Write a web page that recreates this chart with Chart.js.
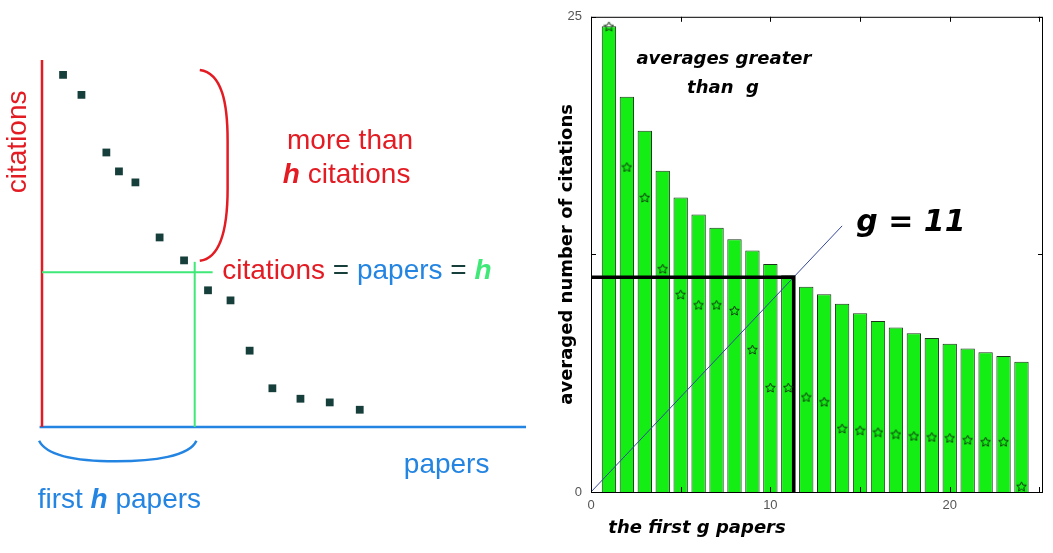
<!DOCTYPE html>
<html>
<head>
<meta charset="utf-8">
<script src="https://cdn.jsdelivr.net/npm/chart.js@4.4.1/dist/chart.umd.min.js"></script>
<style>
html, body { margin: 0; padding: 0; background: #fff; }
#wrap { position: relative; width: 1053px; height: 553px; overflow: hidden; }
#left { position: absolute; left: 0; top: 0; width: 540px; height: 553px; }
#right { position: absolute; left: 540px; top: 0; width: 513px; height: 553px; }
</style>
</head>
<body>
<div id="wrap">
  <div id="left"><canvas id="hChart"></canvas></div>
  <div id="right"><canvas id="gChart"></canvas></div>
</div>
<script>
// ---- left panel: h-index sketch (arbitrary units, 0..20 on both axes)
var paperX = [0.87, 1.63, 2.66, 3.18, 3.86, 4.86, 5.87, 6.86, 7.79, 8.58, 9.52, 10.68, 11.89, 13.13];
var citeY  = [19.19, 18.10, 14.96, 13.93, 13.33, 10.33, 9.08, 7.45, 6.90, 4.16, 2.11, 1.54, 1.34, 0.94];
var hPaper = 6.31;   // green vertical line
var hCite = 8.44;    // green horizontal line

// ---- right panel: g-index
var gPapers    = [1, 2, 3, 4, 5, 6, 7, 8, 9, 10, 11, 12, 13, 14, 15, 16, 17, 18, 19, 20, 21, 22, 23, 24];
var avgCites   = [24.5, 20.8, 19.0, 16.9, 15.5, 14.6, 13.9, 13.3, 12.7, 12.0, 11.4, 10.8, 10.4, 9.9, 9.4, 9.0, 8.65, 8.35, 8.1, 7.8, 7.55, 7.35, 7.15, 6.85];
var paperCites = [24.5, 17.1, 15.5, 11.75, 10.4, 9.85, 9.85, 9.55, 7.5, 5.5, 5.5, 5.0, 4.75, 3.35, 3.25, 3.15, 3.05, 2.95, 2.9, 2.85, 2.75, 2.65, 2.65, 0.3];
var gValue = 11.3;
var diagEnd = 14;
var xTicks  = [0, 5, 10, 15, 20, 25];
var xLabels = ['0', '', '10', '', '20', ''];
var yTicks  = [0, 12.5, 25];
var yLabels = ['0', '', '25'];

var RED = '#e31b23', BLUE = '#2384e2', GREEN = '#3fe877', DARK = '#163e3a';
var SANS = '"Liberation Sans", Arial, sans-serif';
var HEAVY = '"DejaVu Sans", sans-serif';

function drawRuns(ctx, x, y, runs) {
    ctx.textAlign = 'left';
    ctx.textBaseline = 'middle';
    runs.forEach(function (r) {
        ctx.font = r[1];
        ctx.fillStyle = r[2];
        ctx.fillText(r[0], x, y);
        x += ctx.measureText(r[0]).width;
    });
}

var hNotes = {
    id: 'hNotes',
    afterDatasetsDraw: function (chart) {
        var ctx = chart.ctx, xs = chart.scales.x, ys = chart.scales.y;
        var px = function (v) { return xs.getPixelForValue(v); };
        var py = function (v) { return ys.getPixelForValue(v); };
        var norm = '28px ' + SANS, hFont = 'bold italic 28px ' + SANS;
        ctx.save();
        ctx.lineWidth = 2.5;
        // red bracket
        ctx.strokeStyle = RED;
        ctx.beginPath();
        ctx.moveTo(px(6.52), py(19.46));
        ctx.bezierCurveTo(px(7.45), py(19.3), px(7.67), py(17.6), px(7.67), py(15.6));
        ctx.lineTo(px(7.67), py(13.0));
        ctx.bezierCurveTo(px(7.67), py(10.9), px(7.4), py(9.2), px(6.52), py(9.06));
        ctx.stroke();
        // blue bracket
        ctx.strokeStyle = BLUE;
        ctx.beginPath();
        ctx.moveTo(px(-0.12), py(-0.75));
        ctx.bezierCurveTo(px(0.2), py(-1.6), px(1.5), py(-1.87), px(3.07), py(-1.87));
        ctx.bezierCurveTo(px(4.6), py(-1.87), px(6.1), py(-1.6), px(6.38), py(-0.75));
        ctx.stroke();

        // rotated axis label
        ctx.save();
        ctx.translate(px(-0.96), py(15.54));
        ctx.rotate(-Math.PI / 2);
        ctx.font = norm; ctx.fillStyle = RED;
        ctx.textAlign = 'center'; ctx.textBaseline = 'middle';
        ctx.fillText('citations', 0, 0);
        ctx.restore();

        ctx.textAlign = 'center'; ctx.textBaseline = 'middle';
        ctx.font = norm; ctx.fillStyle = RED;
        ctx.fillText('more than', px(12.73), py(15.59));
        ctx.fillStyle = BLUE;
        ctx.fillText('papers', px(16.72), py(-2.11));

        drawRuns(ctx, px(9.95), py(13.74), [['h', hFont, RED], [' citations', norm, RED]]);
        drawRuns(ctx, px(7.45), py(8.5), [['citations', norm, RED], [' = ', norm, DARK],
            ['papers', norm, BLUE], [' = ', norm, DARK], ['h', hFont, GREEN]]);
        drawRuns(ctx, px(-0.18), py(-4.01), [['first ', norm, BLUE], ['h', hFont, BLUE], [' papers', norm, BLUE]]);
        ctx.restore();
    }
};

var hPoints = paperX.map(function (x, i) { return { x: x, y: citeY[i] }; });

new Chart(document.getElementById('hChart'), {
    type: 'scatter',
    data: {
        datasets: [
            { data: hPoints, pointStyle: 'rect', pointRadius: 5.5, backgroundColor: DARK, borderWidth: 0 },
            { type: 'line', data: [{ x: 0, y: hCite }, { x: 7.05, y: hCite }], borderColor: GREEN, borderWidth: 2, pointRadius: 0, clip: false },
            { type: 'line', data: [{ x: hPaper, y: 0 }, { x: hPaper, y: 9.0 }], borderColor: GREEN, borderWidth: 2, pointRadius: 0, clip: false },
            { type: 'line', data: [{ x: 0, y: 0 }, { x: 0, y: 20 }], borderColor: RED, borderWidth: 2.5, pointRadius: 0, clip: false },
            { type: 'line', data: [{ x: -0.1, y: 0 }, { x: 20, y: 0 }], borderColor: BLUE, borderWidth: 2.5, pointRadius: 0, clip: false }
        ]
    },
    options: {
        animation: false,
        responsive: true,
        maintainAspectRatio: false,
        events: [],
        layout: { padding: { left: 42, right: 14, top: 60, bottom: 126 } },
        plugins: { legend: { display: false }, tooltip: { enabled: false } },
        scales: {
            x: { type: 'linear', min: 0, max: 20, display: false },
            y: { type: 'linear', min: 0, max: 20, display: false }
        }
    },
    plugins: [hNotes]
});

// small outlined five-point star used as point style
function makeStar(size, color) {
    var c = document.createElement('canvas');
    c.width = size; c.height = size;
    var g = c.getContext('2d');
    g.beginPath();
    for (var i = 0; i < 10; i++) {
        var r = i % 2 === 0 ? size / 2 - 0.5 : size / 4.6;
        var a = -Math.PI / 2 + i * Math.PI / 5;
        g.lineTo(size / 2 + r * Math.cos(a), size / 2 + 0.5 + r * Math.sin(a));
    }
    g.closePath();
    g.strokeStyle = color;
    g.lineWidth = 1;
    g.stroke();
    return c;
}

var gFrame = {
    id: 'gFrame',
    afterDatasetsDraw: function (chart) {
        var ctx = chart.ctx, a = chart.chartArea, xs = chart.scales.x, ys = chart.scales.y;
        ctx.save();
        ctx.strokeStyle = '#000';
        ctx.lineWidth = 1;
        ctx.strokeRect(a.left + 0.5, a.top + 0.5, a.right - a.left - 1, a.bottom - a.top);
        ctx.beginPath();
        xTicks.forEach(function (v) {
            var x = Math.round(xs.getPixelForValue(v)) + 0.5;
            ctx.moveTo(x, a.bottom); ctx.lineTo(x, a.bottom - 5);
            ctx.moveTo(x, a.top); ctx.lineTo(x, a.top + 5);
        });
        yTicks.forEach(function (v) {
            var y = Math.round(ys.getPixelForValue(v)) + 0.5;
            ctx.moveTo(a.left, y); ctx.lineTo(a.left + 5, y);
            ctx.moveTo(a.right, y); ctx.lineTo(a.right - 5, y);
        });
        ctx.stroke();

        ctx.fillStyle = '#000';
        ctx.textAlign = 'center';
        ctx.textBaseline = 'middle';
        ctx.font = 'bold italic 18px ' + HEAVY;
        ctx.fillText('averages greater', xs.getPixelForValue(7.41), ys.getPixelForValue(22.74));
        ctx.fillText('than  g', xs.getPixelForValue(7.36), ys.getPixelForValue(21.22));
        ctx.fillText('the first g papers', xs.getPixelForValue(5.91), a.bottom + 36);
        ctx.font = 'bold italic 30px ' + HEAVY;
        ctx.fillText('g = 11', xs.getPixelForValue(17.84), ys.getPixelForValue(14.14));
        ctx.restore();
    }
};

var barPts = gPapers.map(function (x, i) { return { x: x, y: avgCites[i] }; });
var starPts = gPapers.map(function (x, i) { return { x: x, y: paperCites[i] }; });

new Chart(document.getElementById('gChart'), {
    type: 'bar',
    data: {
        datasets: [
            { type: 'scatter', data: starPts, pointStyle: makeStar(11, '#163816'), pointRadius: 5, order: 0 },
            { type: 'line', data: [{ x: 0, y: gValue }, { x: gValue, y: gValue }, { x: gValue, y: 0 }],
              borderColor: '#000', borderWidth: 3.5, pointRadius: 0, order: 1 },
            { type: 'line', data: [{ x: 0, y: 0 }, { x: diagEnd, y: diagEnd }],
              borderColor: '#35489a', borderWidth: 1, pointRadius: 0, order: 2 },
            { type: 'bar', data: barPts, backgroundColor: '#14ee14', borderColor: '#1c341c', borderWidth: 1,
              barPercentage: 0.8, categoryPercentage: 1, order: 3 }
        ]
    },
    options: {
        animation: false,
        responsive: true,
        maintainAspectRatio: false,
        events: [],
        layout: { padding: { left: 0, right: 10, top: 15, bottom: 0 } },
        plugins: { legend: { display: false }, tooltip: { enabled: false } },
        scales: {
            x: {
                type: 'linear', min: 0, max: 25.2, offset: false,
                grid: { display: false, drawTicks: false, offset: false }, border: { display: false },
                afterBuildTicks: function (s) { s.ticks = xTicks.map(function (v) { return { value: v }; }); },
                afterFit: function (s) { s.height = 61; },
                ticks: {
                    padding: 6, maxRotation: 0, autoSkip: false,
                    color: '#555', font: { family: SANS, size: 13 },
                    callback: function (v, i) { return xLabels[i]; }
                }
            },
            y: {
                type: 'linear', min: 0, max: 25,
                grid: { display: false, drawTicks: false }, border: { display: false },
                afterBuildTicks: function (s) { s.ticks = yTicks.map(function (v) { return { value: v }; }); },
                afterFit: function (s) { s.width = 51; },
                ticks: {
                    padding: 9, autoSkip: false,
                    color: '#555', font: { family: SANS, size: 13 },
                    callback: function (v, i) { return yLabels[i]; }
                },
                title: {
                    display: true, text: 'averaged number of citations', color: '#000',
                    font: { family: HEAVY, weight: 'bold', size: 18 },
                    padding: { top: 17, bottom: 0 }
                }
            }
        }
    },
    plugins: [gFrame]
});
</script>
</body>
</html>
